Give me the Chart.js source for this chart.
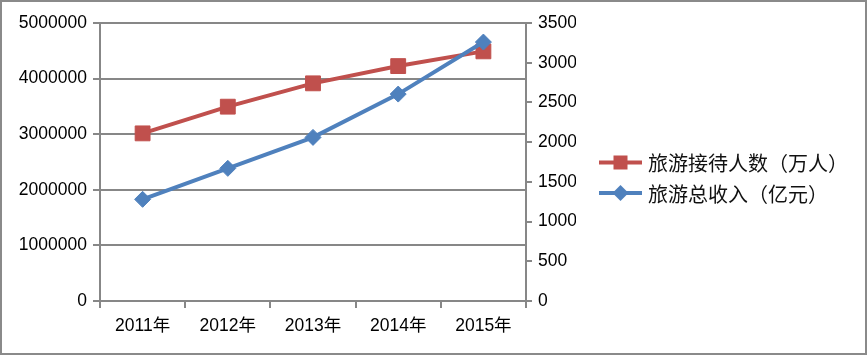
<!DOCTYPE html>
<html>
<head>
<meta charset="utf-8">
<script src="https://cdn.jsdelivr.net/npm/chart.js@4/dist/chart.umd.min.js"></script>
<style>
html,body{margin:0;padding:0;background:#fff;}
#wrap{width:867px;height:355px;position:relative;}
</style>
</head>
<body>
<div id="wrap"><canvas id="c" width="867" height="355"></canvas></div>
<script>
const categories = ['2011年', '2012年', '2013年', '2014年', '2015年'];
const visitors = [3015000, 3495000, 3915000, 4225000, 4490000];
const revenue = [1280, 1670, 2060, 2605, 3260];
const seriesNames = ['旅游接待人数（万人）', '旅游总收入（亿元）'];
const leftTicks = [0, 1000000, 2000000, 3000000, 4000000, 5000000];
const rightTicks = [0, 500, 1000, 1500, 2000, 2500, 3000, 3500];

const RED = '#C0504D', BLUE = '#4F81BD', GRID = '#878787';
const TICKFONT = {family: '"Liberation Sans", "Noto Sans CJK SC", sans-serif', size: 17.5};

const framePlugin = {
  id: 'frame',
  afterDraw(chart) {
    const ctx = chart.ctx;
    ctx.save();
    ctx.strokeStyle = '#8a8a8a';
    ctx.lineWidth = 2;
    ctx.strokeRect(1, 1, chart.width - 2, chart.height - 2);
    ctx.restore();
  }
};

const legendPlugin = {
  id: 'customLegend',
  afterDraw(chart) {
    const ctx = chart.ctx;
    ctx.save();
    chart.data.datasets.forEach((ds, i) => {
      const y = 162.5 + i * 30.5;
      ctx.strokeStyle = ds.borderColor;
      ctx.lineWidth = 4;
      ctx.beginPath();
      ctx.moveTo(599, y);
      ctx.lineTo(642, y);
      ctx.stroke();
      ctx.fillStyle = ds.pointBackgroundColor;
      const cx = 620.5;
      if (ds.pointStyle === 'rect') {
        ctx.fillRect(cx - 7, y - 7, 14, 14);
      } else {
        ctx.beginPath();
        ctx.moveTo(cx, y - 8);
        ctx.lineTo(cx + 8, y);
        ctx.lineTo(cx, y + 8);
        ctx.lineTo(cx - 8, y);
        ctx.closePath();
        ctx.fill();
      }
      ctx.fillStyle = '#111';
      ctx.font = '20px "Noto Sans CJK SC", sans-serif';
      ctx.textBaseline = 'middle';
      ctx.textAlign = 'left';
      ctx.fillText(ds.label, 648, y + 1);
    });
    ctx.restore();
  }
};

new Chart(document.getElementById('c'), {
  type: 'line',
  data: {
    labels: categories,
    datasets: [
      {
        label: seriesNames[0],
        data: visitors,
        yAxisID: 'yL',
        borderColor: RED,
        backgroundColor: RED,
        pointBackgroundColor: RED,
        pointBorderColor: RED,
        borderWidth: 4,
        pointStyle: 'rect',
        pointRadius: 10.5,
        pointBorderWidth: 1,
        tension: 0,
        order: 2
      },
      {
        label: seriesNames[1],
        data: revenue,
        yAxisID: 'yR',
        borderColor: BLUE,
        backgroundColor: BLUE,
        pointBackgroundColor: BLUE,
        pointBorderColor: BLUE,
        borderWidth: 4,
        pointStyle: 'rectRot',
        pointRadius: 8,
        pointBorderWidth: 1,
        tension: 0,
        order: 1
      }
    ]
  },
  options: {
    responsive: false,
    animation: false,
    devicePixelRatio: 1,
    layout: {padding: {top: 23, right: 291, bottom: 0, left: 0}},
    plugins: {
      legend: {display: false},
      tooltip: {enabled: false},
      title: {display: false}
    },
    scales: {
      x: {
        type: 'category',
        offset: true,
        grid: {
          offset: true,
          drawOnChartArea: false,
          drawTicks: true,
          tickLength: 7,
          color: GRID,
          lineWidth: 2
        },
        border: {display: true, color: GRID, width: 2},
        ticks: {color: '#000', font: TICKFONT, padding: 8, maxRotation: 0, autoSkip: false},
        afterFit(s) { s.height = 54; }
      },
      yL: {
        type: 'linear',
        position: 'left',
        min: 0,
        max: 5000000,
        afterBuildTicks(s) { s.ticks = leftTicks.map(v => ({value: v})); },
        grid: {color: GRID, lineWidth: 2, tickLength: 7, drawTicks: true},
        border: {display: true, color: GRID, width: 2},
        ticks: {color: '#000', font: TICKFONT, padding: 6, callback: v => String(v)},
        afterFit(s) { s.width = 100; }
      },
      yR: {
        type: 'linear',
        position: 'right',
        min: 0,
        max: 3500,
        afterBuildTicks(s) { s.ticks = rightTicks.map(v => ({value: v})); },
        grid: {drawOnChartArea: false, color: GRID, lineWidth: 2, tickLength: 6, drawTicks: true},
        border: {display: true, color: GRID, width: 2},
        ticks: {color: '#000', font: TICKFONT, padding: 6, callback: v => String(v)},
        afterFit(s) { s.width = 50; }
      }
    }
  },
  plugins: [legendPlugin, framePlugin]
});
</script>
</body>
</html>
